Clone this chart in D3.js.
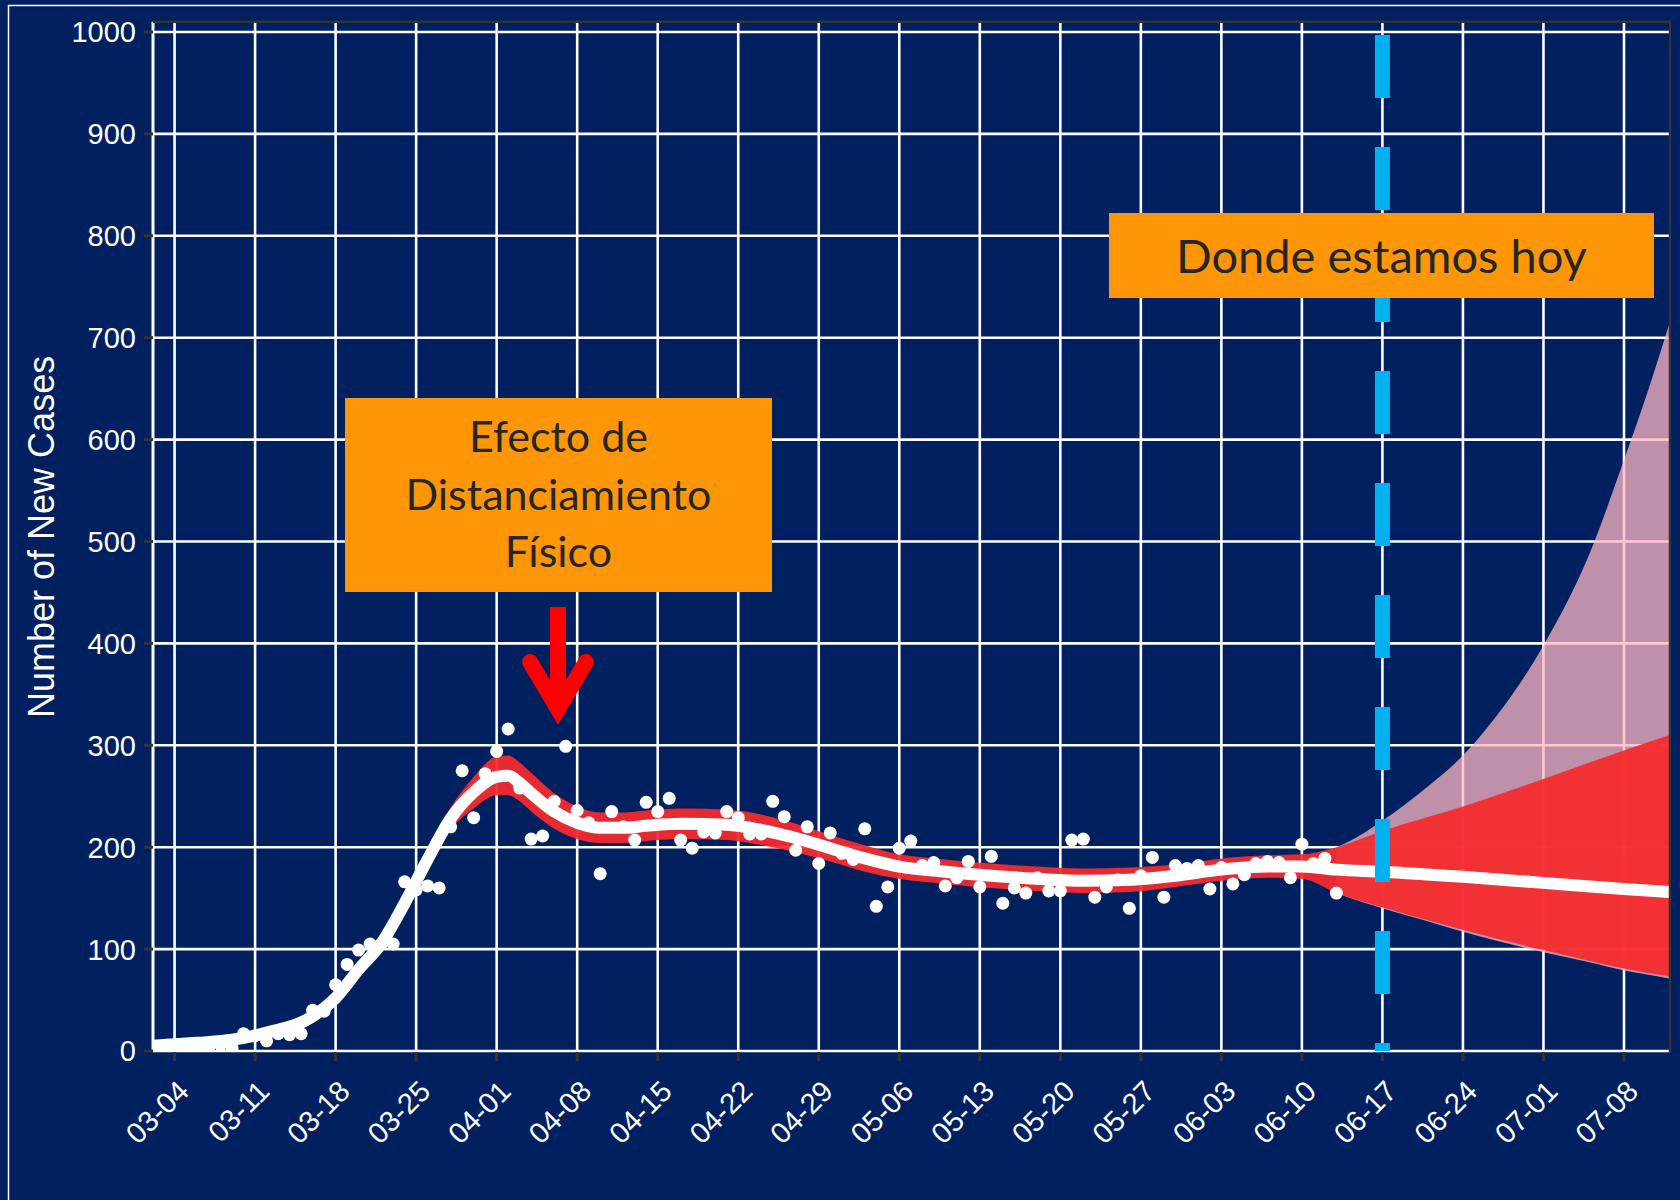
<!DOCTYPE html>
<html lang="es">
<head>
  <meta charset="UTF-8">
  <title>Number of New Cases</title>
  <style>
    html, body { margin: 0; padding: 0; background: #002060; }
    svg { display: block; }
    text { font-family: "Liberation Sans", Arial, sans-serif; }
    .box-label { font-family: Lato, "Open Sans", sans-serif; fill: #262626; }
  </style>
</head>
<body>
<svg width="1680" height="1200"></svg>

<script src="https://d3js.org/d3.v7.min.js"></script>
<script>
// ---- datos ----
var pointDates = [
  "03-03","03-04","03-05","03-06","03-07","03-08","03-09","03-10","03-11","03-12",
  "03-13","03-14","03-15","03-16","03-17","03-18","03-19","03-20","03-21","03-22",
  "03-23","03-24","03-25","03-26","03-27","03-28","03-29","03-30","03-31","04-01",
  "04-02","04-03","04-04","04-05","04-06","04-07","04-08","04-09","04-10","04-11",
  "04-12","04-13","04-14","04-15","04-16","04-17","04-18","04-19","04-20","04-21",
  "04-22","04-23","04-24","04-25","04-26","04-27","04-28","04-29","04-30","05-01",
  "05-02","05-03","05-04","05-05","05-06","05-07","05-08","05-09","05-10","05-11",
  "05-12","05-13","05-14","05-15","05-16","05-17","05-18","05-19","05-20","05-21",
  "05-22","05-23","05-24","05-25","05-26","05-27","05-28","05-29","05-30","05-31",
  "06-01","06-02","06-03","06-04","06-05","06-06","06-07","06-08","06-09","06-10",
  "06-11","06-12","06-13"
];
var pointCases = [
  1, 2, 2, 3, 4, 6, 3, 17, 15, 10,
  17, 16, 17, 40, 39, 65, 85, 99, 105, 105,
  105, 166, 158, 162, 160, 220, 275, 229, 272, 294,
  316, 258, 208, 211, 245, 299, 236, 224, 174, 235,
  220, 207, 244, 235, 248, 207, 199, 215, 214, 235,
  229, 213, 213, 245, 230, 197, 220, 184, 214, 194,
  188, 218, 142, 161, 199, 206, 182, 185, 162, 170,
  186, 161, 191, 145, 160, 155, 170, 157, 157, 207,
  208, 151, 161, 168, 140, 172, 190, 151, 182, 179,
  182, 159, 180, 164, 173, 184, 186, 185, 170, 203,
  184, 189, 155
];

// curva suavizada y su banda
var smoothDates = ["03-02","03-06","03-09","03-12","03-16","03-18","03-20","03-22","03-24","03-26",
  "03-28","03-30","04-01","04-02","04-03","04-04","04-06","04-08","04-10","04-12",
  "04-14","04-17","04-21","04-24","04-27","04-30","05-03","05-06","05-10","05-14",
  "05-18","05-22","05-26","05-30","06-03","06-07","06-10","06-13","06-17","06-24",
  "07-01","07-08","07-12"];
var smoothFit = [5, 8, 11, 18, 34, 52, 80, 106, 145, 188,
  228, 254, 269, 270, 263, 253, 235, 224, 219, 219,
  221, 223, 222, 217, 209, 199, 189, 181, 176, 172,
  169, 167, 168, 172, 178, 181, 181, 178, 176, 171,
  165, 159, 156];
var smoothLo = [3, 5, 8, 14, 29, 46, 73, 99, 137, 179,
  217, 238, 251, 251, 245, 235, 218, 208, 204, 204,
  206, 208, 207, 202, 195, 186, 176, 169, 164, 160,
  157, 155, 156, 161, 167, 170, 169, 155, 141, 119,
  99, 81, 73];
var smoothHi = [7, 11, 14, 22, 39, 58, 87, 113, 153, 197,
  239, 269, 289, 290, 283, 273, 253, 240, 234, 234,
  236, 238, 237, 232, 223, 212, 202, 193, 188, 184,
  181, 179, 180, 183, 189, 192, 193, 200, 216, 240,
  267, 295, 310];

// banda exterior de la proyeccion
var outerDates = ["06-13","06-14","06-17","06-21","06-24","06-27","07-01","07-05","07-08","07-10","07-12"];
var outerLo = [155, 151, 140, 127, 117, 108, 97, 87, 79, 75, 71];
var outerHi = [200, 205, 226, 260, 290, 330, 398, 488, 580, 645, 716];

var todayDate = "06-17";

var xTickLabels = ["03-04","03-11","03-18","03-25","04-01","04-08","04-15","04-22","04-29",
  "05-06","05-13","05-20","05-27","06-03","06-10","06-17","06-24","07-01","07-08"];
var yTicks = [0, 100, 200, 300, 400, 500, 600, 700, 800, 900, 1000];

(function() {
  // ---- escalas ----
  var parse = function(s) { return d3.utcParse("%Y-%m-%d")("2020-" + s); };

  var x = d3.scaleUtc()
    .domain([d3.utcHour.offset(parse("03-02"), 3), parse("07-12")])
    .range([153, 1670]);
  var y = d3.scaleLinear().domain([0, 1000]).range([1051, 32]);

  var pLeft = x.range()[0], pRight = x.range()[1];
  var pTop = y(1010), pBottom = y(-1);

  var svg = d3.select("svg");

  svg.append("rect").attr("width", 1680).attr("height", 1200).attr("fill", "#002060");
  svg.append("rect")
    .attr("x", 8.5).attr("y", 5.5).attr("width", 1700).attr("height", 1220)
    .attr("fill", "none").attr("stroke", "#ffffff").attr("stroke-width", 1.5);

  // ---- rejilla ----
  var grid = svg.append("g");
  grid.selectAll(".hg").data(yTicks).enter().append("line")
    .attr("x1", pLeft).attr("x2", pRight)
    .attr("y1", function(d) { return y(d); }).attr("y2", function(d) { return y(d); })
    .attr("stroke", "#ffffff").attr("stroke-width", 2.6);
  grid.selectAll(".vg").data(xTickLabels).enter().append("line")
    .attr("x1", function(d) { return x(parse(d)); }).attr("x2", function(d) { return x(parse(d)); })
    .attr("y1", pTop).attr("y2", pBottom)
    .attr("stroke", "#ffffff").attr("stroke-width", 2.6);
  grid.append("line")
    .attr("x1", pLeft).attr("x2", pLeft).attr("y1", pTop).attr("y2", pBottom)
    .attr("stroke", "#ffffff").attr("stroke-width", 3);

  // ---- datos ----
  svg.append("clipPath").attr("id", "panel")
    .append("rect").attr("x", pLeft).attr("y", pTop)
    .attr("width", pRight - pLeft).attr("height", pBottom - pTop);
  var plot = svg.append("g").attr("clip-path", "url(#panel)");

  var outer = outerDates.map(function(d, i) { return { date: parse(d), lo: outerLo[i], hi: outerHi[i] }; });
  var smooth = smoothDates.map(function(d, i) {
    return { date: parse(d), fit: smoothFit[i], lo: smoothLo[i], hi: smoothHi[i] };
  });
  var points = pointDates.map(function(d, i) { return { date: parse(d), value: pointCases[i] }; });

  var band = d3.area()
    .x(function(d) { return x(d.date); })
    .y0(function(d) { return y(d.lo); })
    .y1(function(d) { return y(d.hi); })
    .curve(d3.curveMonotoneX);

  plot.append("path").datum(outer)
    .attr("d", band).attr("fill", "#ffb6c1").attr("fill-opacity", 0.75);
  plot.append("path").datum(smooth)
    .attr("d", band).attr("fill", "#f52a2e").attr("fill-opacity", 0.94);

  plot.append("path").datum(smooth)
    .attr("d", d3.line()
      .x(function(d) { return x(d.date); })
      .y(function(d) { return y(d.fit); })
      .curve(d3.curveMonotoneX))
    .attr("fill", "none").attr("stroke", "#ffffff").attr("stroke-width", 12);

  plot.selectAll(".pt").data(points).enter().append("circle")
    .attr("cx", function(d) { return x(d.date); })
    .attr("cy", function(d) { return y(d.value); })
    .attr("r", 6.5).attr("fill", "#ffffff");

  // linea de hoy
  var todayX = x(parse(todayDate));
  plot.append("line")
    .attr("x1", todayX).attr("x2", todayX)
    .attr("y1", y(1000) + 3).attr("y2", y(0))
    .attr("stroke", "#00b0f0").attr("stroke-width", 15)
    .attr("stroke-dasharray", "63 49");

  // borde del panel
  svg.append("path")
    .attr("d", "M" + pLeft + "," + pTop + "H" + pRight + "V" + pBottom)
    .attr("fill", "none").attr("stroke", "#333333").attr("stroke-width", 2.5);

  // ---- ejes ----
  var yAxis = svg.append("g");
  yAxis.selectAll("line").data(yTicks).enter().append("line")
    .attr("x1", pLeft - 9).attr("x2", pLeft)
    .attr("y1", function(d) { return y(d); }).attr("y2", function(d) { return y(d); })
    .attr("stroke", "#333333").attr("stroke-width", 3);
  yAxis.selectAll("text").data(yTicks).enter().append("text")
    .attr("x", pLeft - 17).attr("y", function(d) { return y(d); })
    .attr("dy", "0.36em").attr("text-anchor", "end")
    .attr("font-size", 29).attr("fill", "#ffffff")
    .text(function(d) { return d; });

  var xAxis = svg.append("g");
  xAxis.selectAll("line").data(xTickLabels).enter().append("line")
    .attr("x1", function(d) { return x(parse(d)); }).attr("x2", function(d) { return x(parse(d)); })
    .attr("y1", pBottom).attr("y2", pBottom + 9)
    .attr("stroke", "#333333").attr("stroke-width", 3);
  xAxis.selectAll("text").data(xTickLabels).enter().append("text")
    .attr("transform", function(d) { return "translate(" + (x(parse(d)) + 16) + "," + (pBottom + 41) + ") rotate(-45)"; })
    .attr("text-anchor", "end")
    .attr("font-size", 29).attr("fill", "#ffffff")
    .text(function(d) { return d; });

  svg.append("text")
    .attr("transform", "translate(41," + ((pTop + pBottom) / 2) + ") rotate(-90)")
    .attr("text-anchor", "middle").attr("dy", "0.36em")
    .attr("font-size", 36).attr("fill", "#ffffff")
    .text("Number of New Cases");

  // ---- anotaciones ----
  var orange = "#ff9607";

  svg.append("rect").attr("x", 345).attr("y", 398).attr("width", 427).attr("height", 194).attr("fill", orange);
  var lines1 = ["Efecto de", "Distanciamiento", "Físico"];
  svg.selectAll(".l1").data(lines1).enter().append("text")
    .attr("class", "box-label")
    .attr("x", 558.5).attr("y", function(d, i) { return 452 + i * 57.5; })
    .attr("text-anchor", "middle").attr("font-size", 43)
    .text(function(d) { return d; });

  // flecha roja
  svg.append("line")
    .attr("x1", 558).attr("x2", 558).attr("y1", 607).attr("y2", 705)
    .attr("stroke", "#ff0000").attr("stroke-width", 16);
  svg.append("path")
    .attr("d", "M530,662L558,709L586,662")
    .attr("fill", "none").attr("stroke", "#ff0000").attr("stroke-width", 16)
    .attr("stroke-linecap", "round").attr("stroke-linejoin", "miter");

  svg.append("rect").attr("x", 1109).attr("y", 213).attr("width", 545).attr("height", 85).attr("fill", orange);
  svg.append("text")
    .attr("class", "box-label")
    .attr("x", todayX - 1).attr("y", 273)
    .attr("text-anchor", "middle").attr("font-size", 47)
    .text("Donde estamos hoy");
})();
</script>
</body>
</html>
